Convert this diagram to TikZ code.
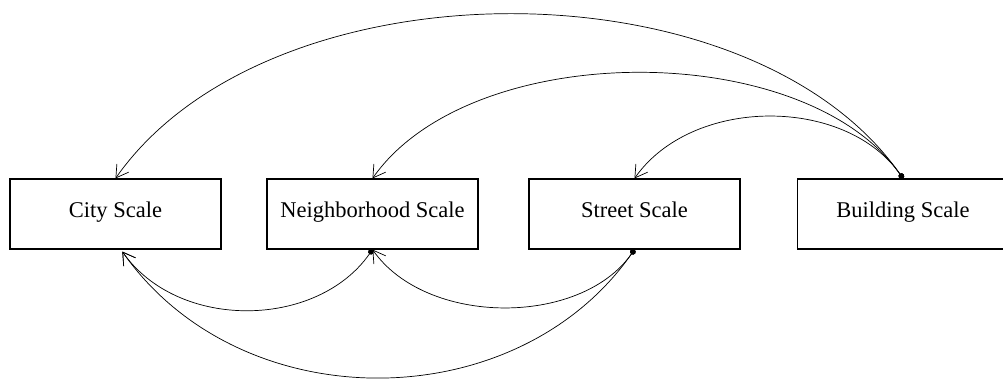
\documentclass[tikz,border=0pt]{standalone}
\usepackage{fontspec}
\setmainfont{Liberation Serif}
\usetikzlibrary{arrows.meta,positioning}

\begin{document}
\begin{tikzpicture}[auto, node distance=6.5cm, >={Straight Barb[length=3mm,width=3.6mm]}]
    \tikzset{font={\fontsize{16pt}{19}\selectfont}}
    \tikzset{scalebox/.style={draw, line width=0.8pt, minimum width=5.275cm, minimum height=1.75cm, inner sep=0pt, text height=0.7em, text depth=0.22em}}
    \tikzset{link/.style={{Circle[length=1.4mm]}->, line width=0.5pt}}
    \useasboundingbox (0,0) rectangle (25.075,9.5);
    \node [scalebox] (city) at (2.8875,4.15) {City Scale};
    \node [scalebox, right of=city, node distance=6.425cm] (hood) {Neighborhood Scale};
      \node [scalebox, right of=hood, node distance=6.55cm] (street) {Street Scale};
        \node [scalebox, right of=street, node distance=6.7125cm] (bldg) {Building Scale};
    % over the top: building to every other scale
    \draw [link] (bldg.north) to[out=125, in=55, looseness=0.87] (city.north);
    \draw [link] (bldg.north) to[out=125, in=55, looseness=0.83] (hood.north);
    \draw [link] (bldg.north) to[out=125, in=55, looseness=0.96] (street.north);
    % underneath: street and neighborhood down to the larger scales
      \draw [link] (hood.south) to[out=-125, in=-55, looseness=0.99] ([xshift=0.17cm, yshift=-0.05cm]city.south);
      \draw [link] (street.south) to[out=-125, in=-55, looseness=0.92] (hood.south);
      \draw [link] (street.south) to[out=-125, in=-55, looseness=1.03] ([xshift=0.17cm, yshift=-0.05cm]city.south);
\end{tikzpicture}
\end{document}
